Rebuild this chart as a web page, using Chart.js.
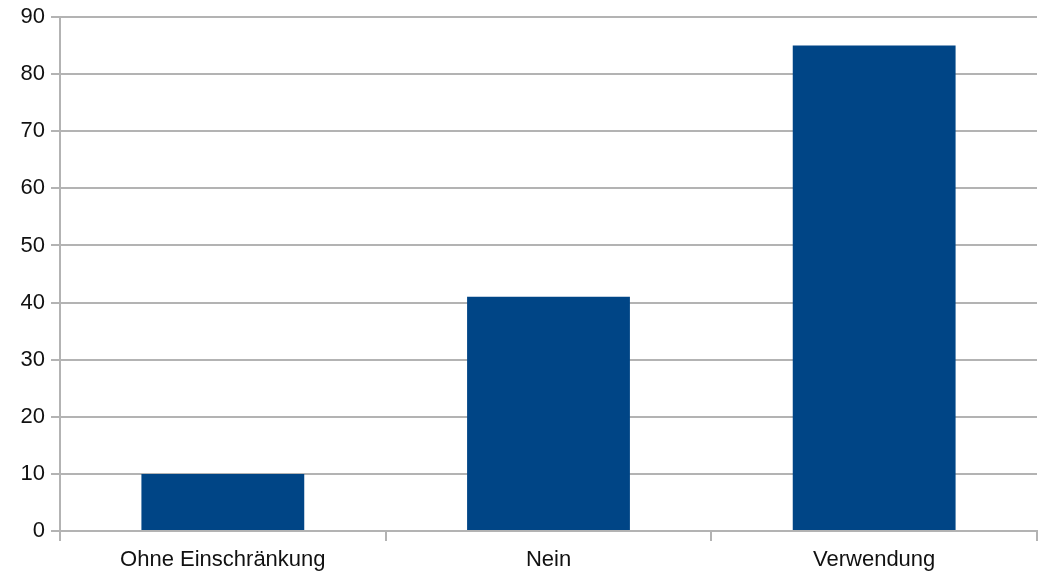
<!DOCTYPE html>
<html>
<head>
<meta charset="utf-8">
<script src="https://cdn.jsdelivr.net/npm/chart.js@4"></script>
<style>
    html, body { margin: 0; padding: 0; background: #fff; }
    #wrap { width: 1047px; height: 575px; }
</style>
</head>
<body>
<div id="wrap"><canvas id="chart" width="1047" height="575"></canvas></div>
<script>
const categories = ['Ohne Einschränkung', 'Nein', 'Verwendung'];
const values = [10, 41, 85];
const yTicks = [0, 10, 20, 30, 40, 50, 60, 70, 80, 90];

const barColor = '#004586';
const gridColor = '#b3b3b3';

Chart.defaults.font.family = '"Liberation Sans", Arial, sans-serif';
Chart.defaults.font.size = 22;
Chart.defaults.color = '#111';

const ctx = document.getElementById('chart').getContext('2d');
const chart = new Chart(ctx, {
    type: 'bar',
    data: {
        labels: categories,
        datasets: [{
            data: values,
            backgroundColor: barColor,
            borderWidth: 0,
            categoryPercentage: 1,
            barPercentage: 0.5
        }]
    },
    options: {
        responsive: false,
        animation: false,
        layout: { padding: { top: 17, right: 10, bottom: 0, left: 0 } },
        plugins: { legend: { display: false }, tooltip: { enabled: false } },
        scales: {
            x: {
                grid: {
                    offset: true,
                    drawOnChartArea: false,
                    drawTicks: true,
                    tickLength: 10,
                    color: gridColor,
                    lineWidth: 2
                },
                border: { color: gridColor, width: 2 },
                ticks: { padding: 6, maxRotation: 0 },
                afterFit: scale => { scale.height = 44; }
            },
            y: {
                min: 0,
                max: 90,
                afterBuildTicks: scale => { scale.ticks = yTicks.map(v => ({ value: v })); },
                grid: { color: gridColor, lineWidth: 2, tickLength: 9 },
                border: { color: gridColor, width: 2 },
                ticks: { padding: 6, font: { lineHeight: 1 } },
                afterFit: scale => { scale.width = 60; }
            }
        }
    }
});
</script>
</body>
</html>
